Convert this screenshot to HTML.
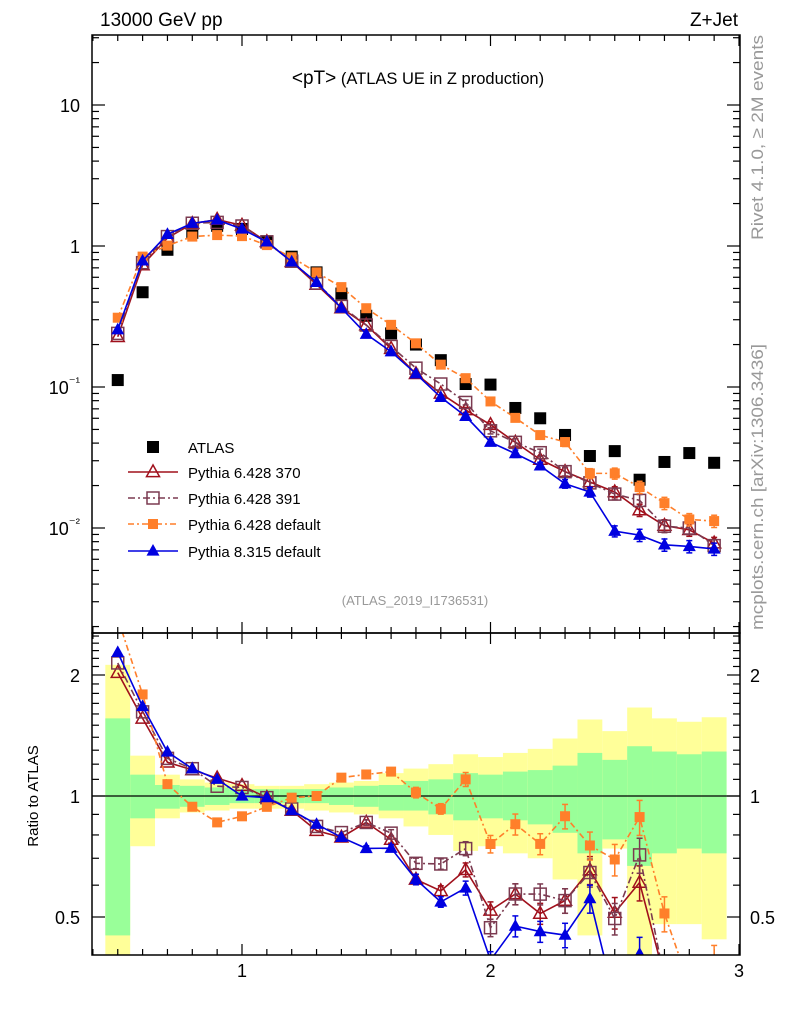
<!DOCTYPE html>
<html><head><meta charset="utf-8"><style>
html,body{margin:0;padding:0;background:#fff;overflow:hidden;width:786px;height:1024px;}
svg{display:block;font-family:"Liberation Sans",sans-serif;}
</style></head><body>
<svg id="c" width="786" height="1024" viewBox="0 0 786 1024">
<defs>
<clipPath id="mclip"><rect x="92" y="35" width="648" height="598"/></clipPath>
<clipPath id="rclip"><rect x="92" y="633" width="648" height="322"/></clipPath>
</defs>
<g id="bands" clip-path="url(#rclip)"></g>
<g id="ticks"></g>
<g id="series-main" clip-path="url(#mclip)"></g>
<g id="series-ratio" clip-path="url(#rclip)"></g>
<rect x="92" y="35" width="648" height="598" fill="none" stroke="#000" stroke-width="1.5"/>
<rect x="92" y="633" width="648" height="322" fill="none" stroke="#000" stroke-width="1.5"/>
<text x="100" y="26" font-size="19">13000 GeV pp</text>
<text x="738" y="26" font-size="19" text-anchor="end">Z+Jet</text>
<text x="418" y="84" font-size="16.5" text-anchor="middle"><tspan font-size="19">&lt;pT&gt;</tspan> (ATLAS UE in Z production)</text>
<text x="415" y="605" font-size="13" fill="#999" text-anchor="middle">(ATLAS_2019_I1736531)</text>
<text transform="translate(763,240) rotate(-90)" font-size="17" fill="#999" textLength="205" lengthAdjust="spacingAndGlyphs">Rivet 4.1.0, ≥ 2M events</text>
<text transform="translate(763,630) rotate(-90)" font-size="17" fill="#999" textLength="286" lengthAdjust="spacingAndGlyphs">mcplots.cern.ch [arXiv:1306.3436]</text>
<text transform="translate(38,796) rotate(-90)" font-size="15" text-anchor="middle">Ratio to ATLAS</text>
<g id="legend"></g>
</svg>
<script>
const xs = [0.5,0.6,0.7,0.8,0.9,1.0,1.1,1.2,1.3,1.4,1.5,1.6,1.7,1.8,1.9,2.0,2.1,2.2,2.3,2.4,2.5,2.6,2.7,2.8,2.9];
const atlas = [0.112,0.47,0.94,1.24,1.39,1.32,1.08,0.84,0.65,0.46,0.32,0.24,0.20,0.155,0.105,0.104,0.071,0.060,0.0457,0.0324,0.0351,0.022,0.0294,0.034,0.029];
const py370 = [0.227,0.733,1.14,1.44,1.54,1.40,1.07,0.773,0.533,0.363,0.275,0.187,0.124,0.090,0.0688,0.054,0.0405,0.0306,0.0251,0.0212,0.018,0.0134,0.0104,0.0097,0.0078];
const py391 = [0.24,0.761,1.166,1.45,1.47,1.386,1.07,0.78,0.546,0.373,0.275,0.194,0.136,0.105,0.0777,0.0489,0.0405,0.0342,0.0251,0.0209,0.0174,0.0157,0.0103,0.0100,0.0075];
const py6def = [0.31,0.841,1.006,1.166,1.195,1.175,1.015,0.832,0.65,0.511,0.362,0.276,0.204,0.144,0.1155,0.079,0.0604,0.0456,0.0407,0.0244,0.0244,0.0195,0.015,0.0115,0.0112];
const py8def = [0.255,0.785,1.21,1.45,1.53,1.32,1.07,0.773,0.553,0.363,0.237,0.178,0.124,0.0845,0.062,0.0406,0.0337,0.0276,0.0206,0.018,0.0095,0.0089,0.0076,0.0074,0.0071];
const mcRelErr = [0.01,0.01,0.01,0.01,0.01,0.01,0.01,0.01,0.01,0.01,0.015,0.02,0.03,0.03,0.04,0.05,0.06,0.06,0.07,0.08,0.09,0.1,0.1,0.1,0.1];
const totHi = [2.12,1.26,1.13,1.10,1.08,1.07,1.06,1.06,1.07,1.08,1.09,1.14,1.17,1.20,1.27,1.25,1.28,1.31,1.39,1.55,1.45,1.66,1.56,1.53,1.57];
const statHi = [1.56,1.13,1.065,1.06,1.05,1.04,1.04,1.04,1.04,1.05,1.06,1.065,1.09,1.10,1.14,1.13,1.15,1.16,1.19,1.28,1.23,1.33,1.29,1.27,1.29];
const statLo = [0.45,0.88,0.93,0.94,0.95,0.96,0.96,0.96,0.96,0.95,0.94,0.92,0.92,0.90,0.87,0.88,0.87,0.85,0.81,0.72,0.78,0.67,0.72,0.74,0.72];
const totLo = [0.3,0.75,0.88,0.91,0.92,0.93,0.93,0.93,0.92,0.91,0.90,0.88,0.84,0.80,0.73,0.75,0.72,0.70,0.62,0.45,0.74,0.3,0.48,0.48,0.44];
const binW = 0.1;
const mainTicks = [10,1,0.1,0.01];
const mainTickLabels = ["10","1","10⁻¹","10⁻²"];
const ratioTicks = [2,1,0.5];
const ratioTickLabels = ["2","1","0.5"];
const xTicks = [1,2,3];
const xTickLabels = ["1","2","3"];

const NS="http://www.w3.org/2000/svg";
const X = v => 242 + (v-1)*248.5;
const Y = v => Math.max(20, Math.min(660, 246 - Math.log10(v)*141));
const R = v => Math.max(600, Math.min(1000, 796 - Math.log2(v)*121));
function mk(tag, attrs, parent){const e=document.createElementNS(NS,tag);for(const k in attrs)e.setAttribute(k,attrs[k]);parent.appendChild(e);return e;}
const svg=document.getElementById('c');
const bands=document.getElementById('bands');
const tk=document.getElementById('ticks');
const sm=document.getElementById('series-main');
const sr=document.getElementById('series-ratio');
const lg=document.getElementById('legend');

xs.forEach((x,i)=>{
  let r=mk('rect',{x:X(x-binW/2),y:R(totHi[i]),width:X(x+binW/2)-X(x-binW/2),height:R(totLo[i])-R(totHi[i]),fill:'#ffff99'},bands);
  
  
  let g=mk('rect',{x:X(x-binW/2),y:R(statHi[i]),width:X(x+binW/2)-X(x-binW/2),height:R(statLo[i])-R(statHi[i]),fill:'#99ff99'},bands);
  
  
});
let ref=mk('line',{x1:92,x2:740,y1:R(1),y2:R(1),stroke:'#000','stroke-width':1.3},bands);



for(let v=0.4; v<=3.0001; v+=0.1){
  const vv=Math.round(v*10)/10, major=Math.abs(vv-Math.round(vv))<1e-6, L=major?11:6, px=X(vv);
  [[35,1],[633,-1],[633,1],[955,-1]].forEach(([y0,d])=>mk('line',{x1:px,x2:px,y1:y0,y2:y0+d*L,stroke:'#000','stroke-width':1.2},tk));
}
xTicks.forEach((v,i)=>{const t=mk('text',{x:X(v),y:977,'font-size':18,'text-anchor':'middle'},tk);t.textContent=xTickLabels[i];
});
for(let d=-3; d<=1; d++){for(let m=1;m<10;m++){const v=m*Math.pow(10,d);const py=246 - Math.log10(v)*141;if(py<35||py>633)continue;const L=m==1?13:7;
  mk('line',{x1:92,x2:92+L,y1:py,y2:py,stroke:'#000','stroke-width':1.2},tk);mk('line',{x1:740,x2:740-L,y1:py,y2:py,stroke:'#000','stroke-width':1.2},tk);}}
mainTicks.forEach((v,i)=>{const t=mk('text',{x:80,y:Y(v)+7,'font-size':18,'text-anchor':'end'},tk);
 if(i<2)t.textContent=mainTickLabels[i];else{t.textContent='10';const s=mk('tspan',{dy:-8,'font-size':13},t);s.textContent=mainTickLabels[i].slice(2);}
 });
[0.4,0.5,0.6,0.7,0.8,0.9,1,1.1,1.2,1.3,1.4,1.5,1.6,1.7,1.8,1.9,2,2.1,2.2,2.3,2.4,2.5].forEach(v=>{const py=796 - Math.log2(v)*121;if(py<633||py>955)return;const L=(v==1||v==2||v==0.5)?13:7;
  mk('line',{x1:92,x2:92+L,y1:py,y2:py,stroke:'#000','stroke-width':1.2},tk);mk('line',{x1:740,x2:740-L,y1:py,y2:py,stroke:'#000','stroke-width':1.2},tk);});
ratioTicks.forEach((v,i)=>{[[80,'end'],[750,'start']].forEach(([x,a])=>{const t=mk('text',{x:x,y:R(v)+7,'font-size':18,'text-anchor':a},tk);t.textContent=ratioTickLabels[i];
 });});

function marker(g,type,x,y,col,s){
  if(type==='sqF') return mk('rect',{x:x-s/2,y:y-s/2,width:s,height:s,fill:col},g);
  if(type==='sqO') return mk('rect',{x:x-s/2,y:y-s/2,width:s,height:s,fill:'#fff','fill-opacity':0,stroke:col,'stroke-width':1.5},g);
  const h=s*0.9, p=`${x},${y-h*0.6} ${x-s/2},${y+h*0.4} ${x+s/2},${y+h*0.4}`;
  if(type==='triF') return mk('polygon',{points:p,fill:col},g);
  return mk('polygon',{points:p,fill:'none',stroke:col,'stroke-width':1.5},g);
}
const series=[
 {name:'pythia-6428-370',vals:py370,col:'#a0101c',m:'triO',s:13,dash:'',label:'Pythia 6.428 370'},
 {name:'pythia-6428-391',vals:py391,col:'#7b3a50',m:'sqO',s:12,dash:'7,3,2,3',label:'Pythia 6.428 391'},
 {name:'pythia-6428-default',vals:py6def,col:'#ff7f2a',m:'sqF',s:10,dash:'6,3,2,3',label:'Pythia 6.428 default'},
 {name:'pythia-8315-default',vals:py8def,col:'#0000e0',m:'triF',s:13,dash:'',label:'Pythia 8.315 default'}];
atlas.forEach((v,i)=>{const r=marker(sm,'sqF',X(xs[i]),Y(v),'#000',12);});
series.forEach(S=>{
  [[sm,(v,i)=>Y(v)],[sr,(v,i)=>R(v/atlas[i])]].forEach(([g,fy])=>{
    const pts=S.vals.map((v,i)=>X(xs[i])+','+fy(v,i)).join(' ');
    const pl=mk('polyline',{points:pts,fill:'none',stroke:S.col,'stroke-width':1.6,'stroke-dasharray':S.dash},g);
    
    
    S.vals.forEach((v,i)=>{const x=X(xs[i]);const e=mcRelErr[i];
      const y1=g===sm?Y(v*(1+e)):R(v*(1+e)/atlas[i]), y2=g===sm?Y(v*(1-e)):R(v*(1-e)/atlas[i]);
      if(y2-y1>4){mk('line',{x1:x,x2:x,y1:y1,y2:y2,stroke:S.col,'stroke-width':1.5},g);
        mk('line',{x1:x-3,x2:x+3,y1:y1,y2:y1,stroke:S.col,'stroke-width':1.5},g);mk('line',{x1:x-3,x2:x+3,y1:y2,y2:y2,stroke:S.col,'stroke-width':1.5},g);}
      const m=marker(g,S.m,x,fy(v,i),S.col,S.s);
      
      });
  });
});
const ly=[447,472,498,524,551];
let a=marker(lg,'sqF',153,ly[0],'#000',12);
let at=mk('text',{x:188,y:ly[0]+6,'font-size':15},lg);at.textContent='ATLAS';


series.forEach((S,k)=>{const y=ly[k+1];
  mk('line',{x1:128,x2:178,y1:y,y2:y,stroke:S.col,'stroke-width':1.6,'stroke-dasharray':S.dash},lg);
  marker(lg,S.m,153,y,S.col,S.s);
  const t=mk('text',{x:188,y:y+6,'font-size':15},lg);t.textContent=S.label;
  
  });
</script>
</body></html>
